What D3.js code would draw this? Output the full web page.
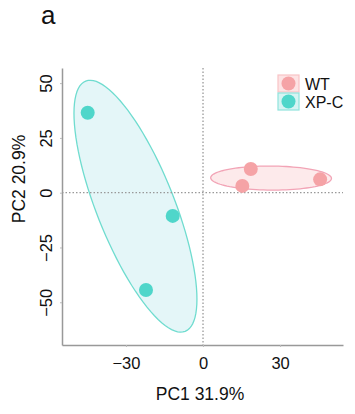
<!DOCTYPE html>
<html>
<head>
<meta charset="utf-8">
<script src="https://cdn.jsdelivr.net/npm/d3@7"></script>
<style>
  body { margin: 0; background: #fff; }
  text { font-family: "Liberation Sans", Arial, sans-serif; fill: #111; }
</style>
</head>
<body>
<script>
// PCA scores
var groups = ["WT", "XP-C"];
var wtPC1 = [18.6, 15.3, 45.6];
var wtPC2 = [10.8, 3.1, 6.1];
var xpcPC1 = [-44.9, -11.8, -22.2];
var xpcPC2 = [36.5, -10.6, -44.4];
var xTicks = [-30, 0, 30];
var yTicks = [-50, -25, 0, 25, 50];
var ellipseLevel = 0.5;

var width = 355, height = 414;
var colors = { "WT": "#f5a3a6", "XP-C": "#4fd6ca" };
var fills = { "WT": "#fde6e8", "XP-C": "#dff5f7" };
var strokes = { "WT": "#f2a4b6", "XP-C": "#6fdccf" };

var series = [
  { name: "WT", pts: d3.zip(wtPC1, wtPC2) },
  { name: "XP-C", pts: d3.zip(xpcPC1, xpcPC2) }
];

var svg = d3.select("body").append("svg")
  .attr("width", width)
  .attr("height", height);

var x = d3.scaleLinear().domain([-54.9, 54.5]).range([62, 343]);
var y = d3.scaleLinear().domain([-69.5, 56.9]).range([345, 68]);

// confidence ellipse like ggplot stat_ellipse(type = "norm")
function ellipsePath(pts) {
  var n = pts.length;
  var mx = d3.mean(pts, function(d) { return d[0]; });
  var my = d3.mean(pts, function(d) { return d[1]; });
  var sxx = 0, syy = 0, sxy = 0;
  pts.forEach(function(d) {
    sxx += (d[0] - mx) * (d[0] - mx);
    syy += (d[1] - my) * (d[1] - my);
    sxy += (d[0] - mx) * (d[1] - my);
  });
  sxx /= (n - 1); syy /= (n - 1); sxy /= (n - 1);
  var d2 = n - 1;
  var qf = d2 / 2 * (Math.pow(1 - ellipseLevel, -2 / d2) - 1);
  var r = Math.sqrt(2 * qf);
  // cholesky of covariance
  var a = Math.sqrt(sxx), b = sxy / a, c = Math.sqrt(syy - b * b);
  var out = [];
  for (var i = 0; i <= 100; i++) {
    var t = 2 * Math.PI * i / 100;
    var u = Math.cos(t), v = Math.sin(t);
    out.push([x(mx + r * a * u), y(my + r * (b * u + c * v))]);
  }
  return d3.line()(out) + "Z";
}

// ellipses
svg.append("g").selectAll("path")
  .data(series)
  .enter().append("path")
  .attr("d", function(d) { return ellipsePath(d.pts); })
  .attr("fill", function(d) { return fills[d.name]; })
  .attr("fill-opacity", 0.85)
  .attr("stroke", function(d) { return strokes[d.name]; })
  .attr("stroke-width", 1.3);

// zero lines
svg.append("line")
  .attr("x1", x(0)).attr("x2", x(0))
  .attr("y1", y.range()[1]).attr("y2", y.range()[0])
  .attr("stroke", "#999").attr("stroke-width", 1.3)
  .attr("stroke-dasharray", "1.5,2");
svg.append("line")
  .attr("x1", x.range()[0]).attr("x2", x.range()[1])
  .attr("y1", y(0)).attr("y2", y(0))
  .attr("stroke", "#999").attr("stroke-width", 1.3)
  .attr("stroke-dasharray", "1.5,2");

// points
series.forEach(function(s) {
  svg.append("g").selectAll("circle")
    .data(s.pts)
    .enter().append("circle")
    .attr("cx", function(d) { return x(d[0]); })
    .attr("cy", function(d) { return y(d[1]); })
    .attr("r", 7)
    .attr("fill", colors[s.name]);
});

// axes
var xAxis = svg.append("g")
  .attr("transform", "translate(0," + y.range()[0] + ")")
  .call(d3.axisBottom(x).tickValues(xTicks).tickSize(2).tickPadding(6).tickSizeOuter(0));
var yAxis = svg.append("g")
  .attr("transform", "translate(" + x.range()[0] + ",0)")
  .call(d3.axisLeft(y).tickValues(yTicks).tickSize(2).tickPadding(6).tickSizeOuter(0));

[xAxis, yAxis].forEach(function(g) {
  g.select(".domain").attr("stroke", "#999").attr("stroke-width", 1.5);
  g.selectAll(".tick line").attr("stroke", "#bbb");
  g.selectAll(".tick text").attr("font-size", 16.5).attr("fill", "#111");
});
xAxis.selectAll(".tick text").attr("dy", "0.95em");
yAxis.selectAll(".tick text")
  .attr("text-anchor", "middle")
  .attr("transform", "translate(-17,0) rotate(-90)")
  .attr("x", 0)
  .attr("dy", "0.35em")
  .attr("y", 0);
yAxis.selectAll(".tick text").attr("transform", null)
  .each(function() {
    d3.select(this)
      .attr("transform", "rotate(-90)")
      .attr("x", 0).attr("y", -10).attr("dy", 0);
  });

// axis titles
svg.append("text")
  .attr("x", 200).attr("y", 400)
  .attr("text-anchor", "middle")
  .attr("font-size", 17.5)
  .text("PC1 31.9%");
svg.append("text")
  .attr("transform", "translate(25,179) rotate(-90)")
  .attr("text-anchor", "middle")
  .attr("font-size", 17.5)
  .text("PC2 20.9%");

// panel tag
svg.append("text")
  .attr("x", 41).attr("y", 24)
  .attr("font-size", 26)
  .text("a");

// legend
var keyFill = { "WT": "#fde3e4", "XP-C": "#d6f4f3" };
var keyStroke = { "WT": "#f9c3c6", "XP-C": "#8fe3dd" };
var legend = svg.append("g").selectAll("g")
  .data(groups)
  .enter().append("g")
  .attr("transform", function(d, i) { return "translate(278," + (75 + i * 18) + ")"; });
legend.append("rect")
  .attr("width", 21).attr("height", 17)
  .attr("fill", function(d) { return keyFill[d]; })
  .attr("stroke", function(d) { return keyStroke[d]; })
  .attr("stroke-width", 1.2);
legend.append("circle")
  .attr("cx", 10.5).attr("cy", 8.5).attr("r", 7)
  .attr("fill", function(d) { return colors[d]; });
legend.append("text")
  .attr("x", 27).attr("y", 15)
  .attr("font-size", 16)
  .text(function(d) { return d; });
</script>
</body>
</html>
